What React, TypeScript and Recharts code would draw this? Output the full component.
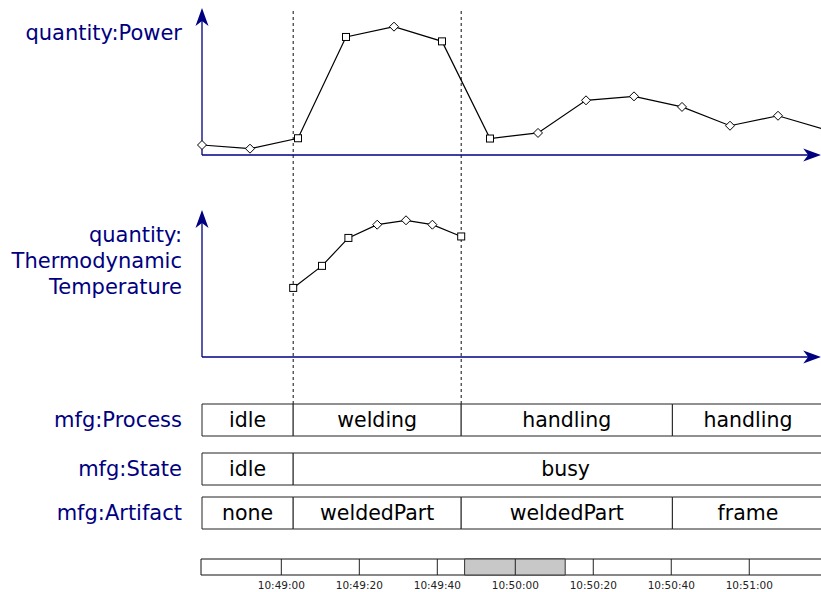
import React from 'react';
import { LineChart, Line, XAxis, YAxis, ReferenceLine, ReferenceArea } from 'recharts';

// all times are seconds after 10:49:00
const viewStart = 47;
const viewEnd = 72.8;
const mainDomain = [47, 74];

const powerTimes = [47, 49, 51, 53, 55, 57, 59, 61, 63, 65, 67, 69, 71, 73];
const powerValues = [68, 43, 114, 803, 873, 773, 112, 150, 372, 399, 327, 199, 267, 171];
const powerMarks = ['d', 'd', 's', 's', 'd', 's', 's', 'd', 'd', 'd', 'd', 'd', 'd', 'd'];

const tempTimes = [50.8, 52.0, 53.1, 54.3, 55.5, 56.6, 57.8];
const tempValues = [47, 62, 81, 90, 93, 90, 82];
const tempMarks = ['s', 's', 's', 'd', 'd', 'd', 's'];

const processLabels = ['idle', 'welding', 'handling', 'handling'];
const processBounds = [47, 50.8, 57.8, 66.6, 72.9];
const stateLabels = ['idle', 'busy'];
const stateBounds = [47, 50.8, 73.5];
const artifactLabels = ['none', 'weldedPart', 'weldedPart', 'frame'];
const artifactBounds = [47, 50.8, 57.8, 66.6, 72.9];

const overviewDomain = [-20.6, 138.4];
const overviewEnd = 145;
const overviewTicks = [0, 20, 40, 60, 80, 100, 120];
const overviewTickLabels = ['10:49:00', '10:49:20', '10:49:40', '10:50:00', '10:50:20', '10:50:40', '10:51:00'];

const NAVY = '#000080';
const FONT = '"DejaVu Sans", Verdana, sans-serif';
const MAIN_W = 850;

const powerData = powerTimes.map((t, i) => ({ t, power: powerValues[i], mark: powerMarks[i] }));
const tempData = tempTimes.map((t, i) => ({ t, temp: tempValues[i], mark: tempMarks[i] }));

const toSegments = (labels: string[], bounds: number[]) =>
  labels.map((label, i) => ({ label, from: bounds[i], to: bounds[i + 1] }));

const processSegments = toSegments(processLabels, processBounds);
const stateSegments = toSegments(stateLabels, stateBounds);
const artifactSegments = toSegments(artifactLabels, artifactBounds);

// welding start/end are the dashed markers
const markerTimes = [processBounds[1], processBounds[2]];
const markerData = markerTimes.map((t) => ({ t }));
const overviewData = overviewTicks.map((t) => ({ t }));

const AxisArrow = (props: any) => {
  const { x1, y1, x2, y2 } = props;
  const dx = x2 - x1;
  const dy = y2 - y1;
  const len = Math.hypot(dx, dy) || 1;
  const ux = dx / len;
  const uy = dy / len;
  const nx = -uy;
  const ny = ux;
  const L = 18;
  const W = 6.5;
  const N = 5;
  const bx = x2 - ux * L;
  const by = y2 - uy * L;
  const mx = x2 - ux * (L - N);
  const my = y2 - uy * (L - N);
  return (
    <g>
      <line x1={x1} y1={y1} x2={mx} y2={my} stroke={NAVY} strokeWidth={1.3} />
      <polygon
        points={`${x2},${y2} ${bx + nx * W},${by + ny * W} ${mx},${my} ${bx - nx * W},${by - ny * W}`}
        fill={NAVY}
      />
    </g>
  );
};

const renderMarker = (props: any) => {
  const { cx, cy, index, payload } = props;
  if (cx == null || cy == null) return <g key={`m-${index}`} />;
  if (payload.mark === 's') {
    return (
      <rect key={`m-${index}`} x={cx - 3.5} y={cy - 3.5} width={7} height={7} fill="#fff" stroke="#000" strokeWidth={1} />
    );
  }
  return (
    <polygon
      key={`m-${index}`}
      points={`${cx},${cy - 4.5} ${cx + 4.5},${cy} ${cx},${cy + 4.5} ${cx - 4.5},${cy}`}
      fill="#fff"
      stroke="#000"
      strokeWidth={1}
    />
  );
};

const Lane = ({ segments, top }: { segments: { label: string; from: number; to: number }[]; top: number }) => (
  <div style={{ position: 'absolute', left: 0, top }}>
    <LineChart width={MAIN_W} height={34} data={segments} margin={{ top: 1, right: 0, bottom: 1, left: 202 }}>
      <XAxis type="number" dataKey="from" domain={mainDomain} allowDataOverflow hide />
      <YAxis type="number" domain={[0, 1]} allowDataOverflow hide />
      {segments.map((s, i) => (
        <ReferenceArea
          key={i}
          x1={s.from}
          x2={s.to}
          y1={0}
          y2={1}
          fill="#fff"
          fillOpacity={1}
          stroke="#222"
          strokeWidth={1}
          label={{ value: s.label, position: 'center', fill: '#000', fontSize: 20.5 }}
        />
      ))}
    </LineChart>
  </div>
);

const sideLabel: React.CSSProperties = {
  position: 'absolute',
  left: 0,
  width: 182,
  textAlign: 'right',
  color: NAVY,
  fontSize: 21,
};

export default function App() {
  return (
    <div
      style={{
        position: 'absolute',
        left: 0,
        top: 0,
        width: 821,
        height: 592,
        overflow: 'hidden',
        background: '#fff',
        fontFamily: FONT,
      }}
    >
      {/* dashed markers through both quantity charts */}
      <div style={{ position: 'absolute', left: 0, top: 0 }}>
        <LineChart width={MAIN_W} height={404} data={markerData} margin={{ top: 10, right: 0, bottom: 0, left: 202 }}>
          <XAxis type="number" dataKey="t" domain={mainDomain} allowDataOverflow hide />
          <YAxis type="number" domain={[0, 1]} allowDataOverflow hide />
          {markerTimes.map((t) => (
            <ReferenceLine key={t} x={t} stroke="#222" strokeDasharray="3 3" strokeWidth={1.1} />
          ))}
        </LineChart>
      </div>

      <div style={{ position: 'absolute', left: 0, top: 0 }}>
        <LineChart width={MAIN_W} height={190} data={powerData} margin={{ top: 8, right: 0, bottom: 35, left: 202 }}>
          <XAxis type="number" dataKey="t" domain={mainDomain} hide />
          <YAxis type="number" domain={[0, 1000]} hide />
          <ReferenceLine segment={[{ x: viewStart, y: 0 }, { x: viewEnd, y: 0 }]} shape={AxisArrow} />
          <ReferenceLine segment={[{ x: viewStart, y: 0 }, { x: viewStart, y: 1000 }]} shape={AxisArrow} />
          <Line dataKey="power" stroke="#000" strokeWidth={1.2} dot={renderMarker} isAnimationActive={false} />
        </LineChart>
      </div>

      <div style={{ position: 'absolute', left: 0, top: 190 }}>
        <LineChart width={MAIN_W} height={200} data={tempData} margin={{ top: 20, right: 0, bottom: 33, left: 202 }}>
          <XAxis type="number" dataKey="t" domain={mainDomain} hide />
          <YAxis type="number" domain={[0, 100]} hide />
          <ReferenceLine segment={[{ x: viewStart, y: 0 }, { x: viewEnd, y: 0 }]} shape={AxisArrow} />
          <ReferenceLine segment={[{ x: viewStart, y: 0 }, { x: viewStart, y: 100 }]} shape={AxisArrow} />
          <Line dataKey="temp" stroke="#000" strokeWidth={1.2} dot={renderMarker} isAnimationActive={false} />
        </LineChart>
      </div>

      <Lane segments={processSegments} top={403} />
      <Lane segments={stateSegments} top={452} />
      <Lane segments={artifactSegments} top={496} />

      <div style={{ position: 'absolute', left: 0, top: 550 }}>
        <LineChart width={821} height={42} data={overviewData} margin={{ top: 9, right: 0, bottom: 0, left: 201 }}>
          <XAxis
            type="number"
            dataKey="t"
            domain={overviewDomain}
            allowDataOverflow
            ticks={overviewTicks}
            interval={0}
            tickFormatter={(v: number, i: number) => overviewTickLabels[i]}
            axisLine={false}
            tickLine={false}
            tickSize={5}
            height={17}
            tick={{ fontSize: 10.5, fill: '#222' }}
          />
          <YAxis type="number" domain={[0, 1]} allowDataOverflow hide />
          <ReferenceArea
            x1={overviewDomain[0]}
            x2={overviewEnd}
            y1={0}
            y2={1}
            fill="#fff"
            fillOpacity={1}
            stroke="#111"
            ifOverflow="visible"
          />
          <ReferenceArea x1={viewStart} x2={viewEnd} y1={0} y2={1} fill="#c8c8c8" fillOpacity={1} stroke="#333" />
          {overviewTicks.map((t) => (
            <ReferenceLine key={t} x={t} stroke="#222" strokeWidth={1} />
          ))}
        </LineChart>
      </div>

      <div style={{ ...sideLabel, top: 21, lineHeight: '24px' }}>quantity:Power</div>
      <div style={{ ...sideLabel, top: 222, lineHeight: '26px' }}>
        quantity:
        <br />
        Thermodynamic
        <br />
        Temperature
      </div>
      <div style={{ ...sideLabel, top: 404, lineHeight: '32px' }}>mfg:Process</div>
      <div style={{ ...sideLabel, top: 453, lineHeight: '32px' }}>mfg:State</div>
      <div style={{ ...sideLabel, top: 497, lineHeight: '32px' }}>mfg:Artifact</div>
    </div>
  );
}
